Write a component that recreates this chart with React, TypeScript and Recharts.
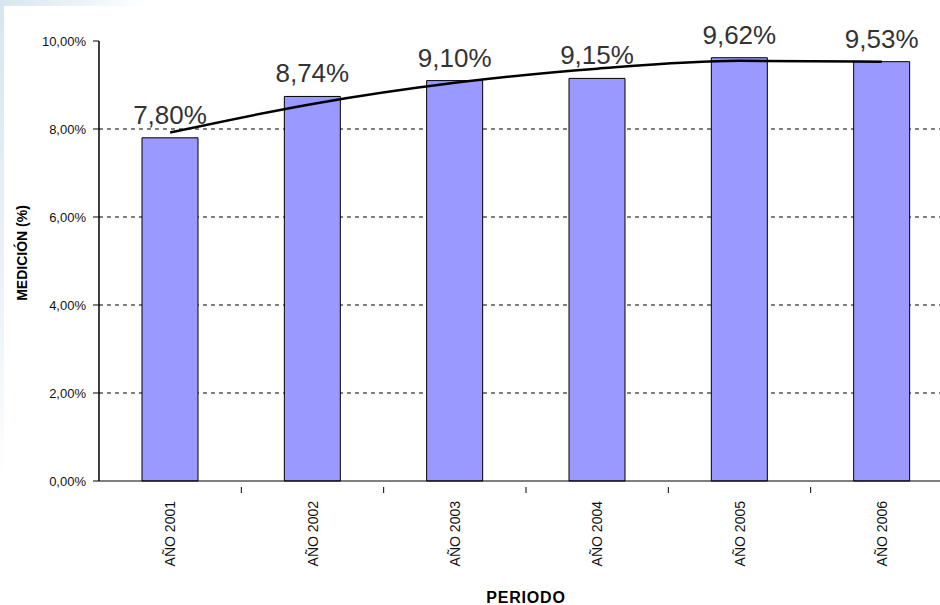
import { Bar, CartesianGrid, ComposedChart, LabelList, Line, XAxis, YAxis } from 'recharts'

const YEARS = ['AÑO 2001', 'AÑO 2002', 'AÑO 2003', 'AÑO 2004', 'AÑO 2005', 'AÑO 2006']
const MEDICION = [7.8, 8.74, 9.1, 9.15, 9.62, 9.53]
// tendencia (polinómica)
const TENDENCIA = [7.92, 8.57, 9.05, 9.37, 9.55, 9.53]
const Y_TICKS = [0, 2, 4, 6, 8, 10]
const GRID_VALUES = [2, 4, 6, 8]

const data = YEARS.map((year, i) => ({ year, value: MEDICION[i], trend: TENDENCIA[i] }))

const fmt = (v: number) => v.toFixed(2).replace('.', ',') + '%'

const FONT = '"Liberation Sans", Arial, sans-serif'

// etiqueta girada + marca de división entre categorías (a media banda)
function YearTick({ x, y, payload }: any) {
    const half = payload && payload.offset ? payload.offset : 0
    const axisY = y - 2
    return (
        <g>
            {half > 0 && (
                <line x1={x + half} x2={x + half} y1={axisY} y2={axisY + 6} stroke="#000" strokeWidth={1} />
            )}
            <text
                x={x}
                y={y}
                transform={`rotate(-90, ${x}, ${y})`}
                dx={-12}
                dy={5}
                textAnchor="end"
                fontFamily={FONT}
                fontSize={14}
                fill="#111"
            >
                {payload.value}
            </text>
        </g>
    )
}

function YTitle({ viewBox }: any) {
    const cx = 22
    const cy = viewBox.y + viewBox.height / 2 - 8
    return (
        <text
            x={cx}
            y={cy}
            transform={`rotate(-90, ${cx}, ${cy})`}
            textAnchor="middle"
            dy={5}
            fontFamily={FONT}
            fontWeight="bold"
            fontSize={14}
            fill="#000"
        >
            MEDICIÓN (%)
        </text>
    )
}

function XTitle({ viewBox }: any) {
    return (
        <text
            x={viewBox.x + viewBox.width / 2}
            y={603}
            textAnchor="middle"
            fontFamily={FONT}
            fontWeight="bold"
            fontSize={16}
            letterSpacing={0.8}
            fill="#000"
        >
            PERIODO
        </text>
    )
}

export default function App() {
    return (
        <div
            style={{
                position: 'fixed',
                left: 0,
                top: 0,
                width: 940,
                height: 605,
                overflow: 'hidden',
                background: '#fff',
            }}
        >
            <div
                style={{
                    position: 'absolute',
                    left: 0,
                    top: 0,
                    width: 150,
                    height: 6,
                    background: 'linear-gradient(to right, #d6e6ef, #ffffff)',
                }}
            />
            <div
                style={{
                    position: 'absolute',
                    left: 0,
                    top: 0,
                    width: 4,
                    height: 480,
                    background: 'linear-gradient(to bottom, #d6e6ef, #eef5f9 70%, #ffffff)',
                }}
            />
            <ComposedChart
                width={960}
                height={605}
                data={data}
                margin={{ top: 41, right: 7, left: 0, bottom: 0 }}
                style={{ position: 'absolute', left: 0, top: 0 }}
            >
                <CartesianGrid
                    vertical={false}
                    horizontalValues={GRID_VALUES}
                    stroke="#000"
                    strokeDasharray="4 4"
                />
                <XAxis
                    dataKey="year"
                    interval={0}
                    tickLine={false}
                    axisLine={{ stroke: '#000' }}
                    tick={<YearTick />}
                    height={124}
                    label={{ content: <XTitle /> }}
                />
                <YAxis
                    domain={[0, 10]}
                    ticks={Y_TICKS}
                    tickFormatter={fmt}
                    width={99}
                    axisLine={{ stroke: '#000', strokeWidth: 1.5 }}
                    tickLine={{ stroke: '#000' }}
                    tickSize={6}
                    tickMargin={7}
                    tick={{ fontFamily: FONT, fontSize: 13, fill: '#111' }}
                    label={{ content: <YTitle /> }}
                />
                <Bar dataKey="value" fill="#9999FF" stroke="#000" strokeWidth={1} barSize={56} isAnimationActive={false}>
                    <LabelList
                        dataKey="value"
                        position="top"
                        offset={14}
                        formatter={(v: any) => fmt(Number(v))}
                        style={{ fontFamily: FONT, fontSize: 26, fill: '#333' }}
                    />
                </Bar>
                <Line
                    dataKey="trend"
                    type="monotone"
                    stroke="#000"
                    strokeWidth={2.5}
                    dot={false}
                    activeDot={false}
                    isAnimationActive={false}
                />
            </ComposedChart>
        </div>
    )
}
